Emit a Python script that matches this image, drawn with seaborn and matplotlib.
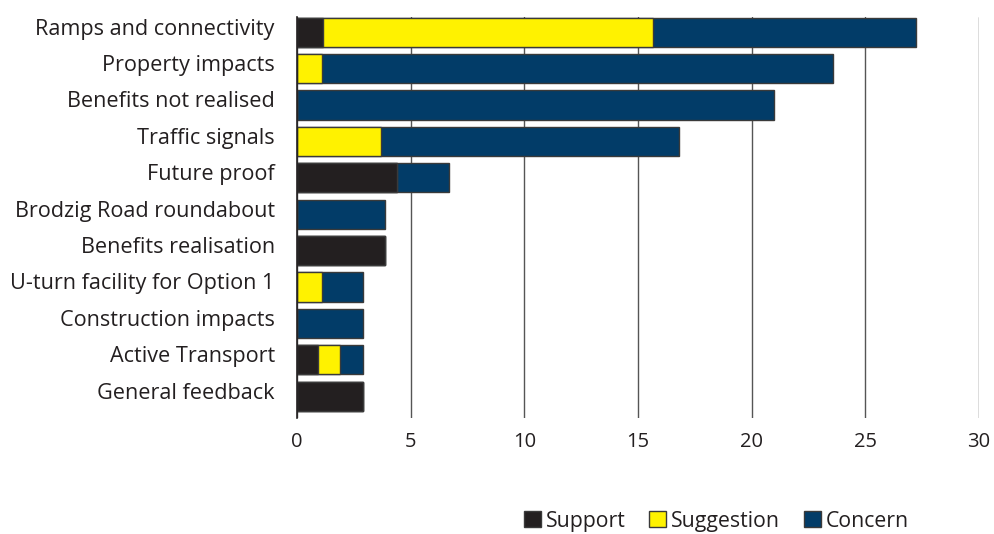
import pandas as pd
import seaborn as sns
import matplotlib.pyplot as plt
from matplotlib.patches import Patch
from matplotlib.transforms import ScaledTranslation

# Values
categories = [
    "Ramps and connectivity", "Property impacts", "Benefits not realised",
    "Traffic signals", "Future proof", "Brodzig Road roundabout",
    "Benefits realisation", "U-turn facility for Option 1",
    "Construction impacts", "Active Transport", "General feedback",
]
support = [1.14, 0, 0, 0, 4.39, 0, 3.87, 0, 0, 0.94, 2.89]
suggestion = [14.5, 1.11, 0, 3.7, 0, 0, 0, 1.11, 0, 0.95, 0]
concern = [11.57, 22.45, 20.97, 13.1, 2.3, 3.87, 0, 1.78, 2.89, 1.0, 0]

x_ticks = [0, 5, 10, 15, 20, 25, 30]

colors = {"Support": "#231f20", "Suggestion": "#fff200", "Concern": "#023c68"}
ink = "#231f20"

df = pd.DataFrame({
    "category": categories,
    "Support": support,
    "Suggestion": suggestion,
    "Concern": concern,
})
# cumulative ends so the stacked segments can be layered
df["end_support"] = df["Support"]
df["end_suggestion"] = df["end_support"] + df["Suggestion"]
df["end_concern"] = df["end_suggestion"] + df["Concern"]

sns.set_theme(style="white")
plt.rcParams["font.family"] = ["Open Sans", "DejaVu Sans"]

fig = plt.figure(figsize=(9.95, 5.34), dpi=100)
ax = fig.add_axes([0.2985, 0.2172, 0.6854, 0.751])

# draw the longest (total) first, then shorter cumulative layers on top
for col, name in [("end_concern", "Concern"), ("end_suggestion", "Suggestion"),
                  ("end_support", "Support")]:
    sns.barplot(
        data=df, x=col, y="category", orient="h",
        color=colors[name], saturation=1, width=0.8,
        edgecolor="#3a3a3a", linewidth=1, ax=ax,
    )

ax.set_xlim(0, 30)
ax.set_ylim(10.6, -0.42)
ax.set_xticks(x_ticks)
ax.set_xlabel("")
ax.set_ylabel("")
ax.xaxis.grid(True, color="#555555", linewidth=1)
ax.set_axisbelow(True)

for side in ["top", "right", "bottom"]:
    ax.spines[side].set_visible(False)
ax.spines["left"].set_color(ink)
ax.spines["left"].set_linewidth(1.2)

ax.tick_params(axis="y", length=0, pad=16, labelsize=15.6, labelcolor=ink)
ax.tick_params(axis="x", length=0, pad=10, labelsize=14.5, labelcolor=ink)

# category labels sit a little above the bar centres in the original
shift = ScaledTranslation(0, 4 / 72, fig.dpi_scale_trans)
for lbl in ax.get_yticklabels():
    lbl.set_transform(lbl.get_transform() + shift)

handles = [Patch(facecolor=colors[n], edgecolor="#3a3a3a", label=n)
           for n in ["Support", "Suggestion", "Concern"]]
fig.legend(
    handles=handles, loc="center", bbox_to_anchor=(0.72, 0.024), ncol=3,
    frameon=False, fontsize=15.3, handlelength=0.8, handleheight=0.8,
    handletextpad=0.25, columnspacing=1.1, labelcolor=ink,
)

fig.savefig("out.png", dpi=100)
